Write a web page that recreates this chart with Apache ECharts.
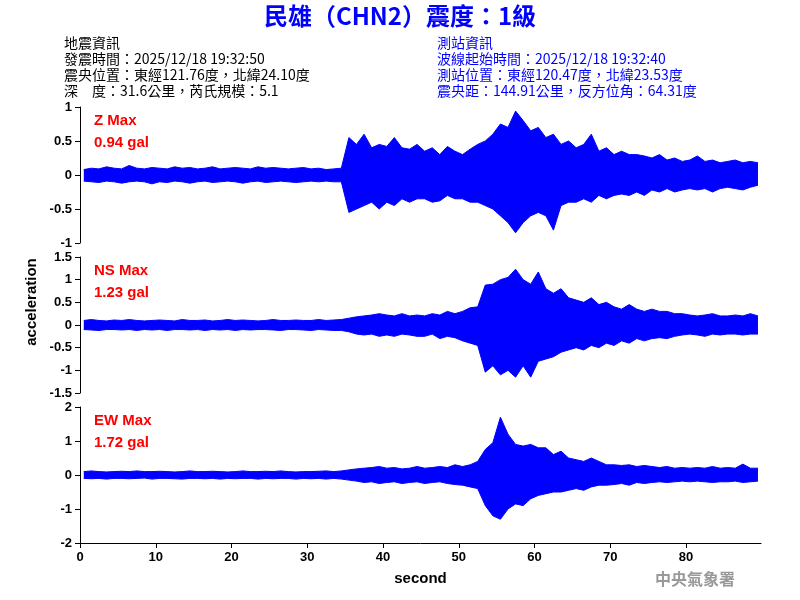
<!DOCTYPE html>
<html>
<head>
<meta charset="utf-8">
<script src="https://cdn.jsdelivr.net/npm/echarts@6/dist/echarts.min.js"></script>
<style>html,body{margin:0;padding:0;background:#fff}#main{width:800px;height:600px}</style>
</head>
<body>
<div id="main"></div>
<script>
// 每秒包絡值（上緣/下緣）
var seconds = [];
for (var s = 0; s < 90; s++) seconds.push(s + 0.5);

var zUpper = [0.08,0.1,0.09,0.12,0.1,0.09,0.14,0.1,0.09,0.11, 0.1,0.09,0.12,0.1,0.11,0.09,0.1,0.12,0.09,0.1,
  0.11,0.1,0.09,0.12,0.1,0.11,0.1,0.09,0.1,0.11, 0.09,0.1,0.08,0.09,0.1, 0.55,0.45,0.6,0.4,0.45,
  0.42,0.55,0.4,0.38,0.45, 0.35,0.4,0.3,0.42,0.35, 0.3,0.38,0.45,0.5,0.6, 0.75,0.7,0.94,0.8,0.65,
  0.7,0.55,0.6,0.45,0.5, 0.4,0.45,0.6,0.35,0.4, 0.3,0.35,0.3,0.3,0.28, 0.25,0.3,0.22,0.25,0.2,
  0.22,0.28,0.2,0.22,0.18, 0.2,0.22,0.18,0.2,0.18];
var zLower = [-0.09,-0.1,-0.11,-0.09,-0.1,-0.12,-0.1,-0.09,-0.1,-0.13, -0.1,-0.11,-0.09,-0.1,-0.12,-0.1,-0.09,-0.11,-0.1,-0.09,
  -0.1,-0.12,-0.1,-0.09,-0.11,-0.1,-0.09,-0.1,-0.11,-0.1, -0.09,-0.1,-0.09,-0.1,-0.1, -0.55,-0.5,-0.45,-0.4,-0.5,
  -0.4,-0.45,-0.35,-0.4,-0.35, -0.35,-0.4,-0.38,-0.3,-0.35, -0.35,-0.4,-0.4,-0.45,-0.5, -0.6,-0.7,-0.85,-0.7,-0.6,
  -0.55,-0.6,-0.81,-0.45,-0.4, -0.4,-0.35,-0.4,-0.3,-0.35, -0.3,-0.28,-0.3,-0.25,-0.3, -0.22,-0.25,-0.2,-0.25,-0.22,
  -0.2,-0.22,-0.2,-0.25,-0.2, -0.18,-0.2,-0.22,-0.18,-0.15];

var nsUpper = [0.1,0.12,0.1,0.09,0.11,0.1,0.12,0.1,0.09,0.1, 0.11,0.1,0.09,0.12,0.1,0.1,0.11,0.09,0.1,0.12,
  0.1,0.11,0.1,0.09,0.1,0.12,0.1,0.1,0.11,0.1, 0.1,0.12,0.1,0.11,0.12, 0.15,0.18,0.2,0.22,0.25,
  0.22,0.2,0.25,0.2,0.22, 0.2,0.25,0.22,0.3,0.25, 0.3,0.38,0.4,0.88,0.9, 1.0,1.05,1.23,1.0,0.9,
  1.17,0.8,0.7,0.8,0.6, 0.55,0.5,0.6,0.45,0.5, 0.4,0.35,0.45,0.35,0.3, 0.35,0.3,0.3,0.25,0.25,
  0.22,0.2,0.22,0.25,0.2, 0.2,0.22,0.2,0.25,0.2];
var nsLower = [-0.1,-0.11,-0.12,-0.1,-0.1,-0.11,-0.1,-0.12,-0.1,-0.11, -0.1,-0.12,-0.1,-0.1,-0.11,-0.1,-0.12,-0.1,-0.11,-0.1,
  -0.12,-0.1,-0.11,-0.1,-0.1,-0.11,-0.12,-0.1,-0.1,-0.11, -0.12,-0.1,-0.11,-0.12,-0.12, -0.15,-0.2,-0.22,-0.2,-0.25,
  -0.22,-0.25,-0.2,-0.22,-0.25, -0.25,-0.2,-0.3,-0.25,-0.28, -0.35,-0.4,-0.45,-1.04,-0.9, -1.1,-1.0,-1.15,-0.9,-1.15,
  -0.8,-0.75,-0.7,-0.6,-0.55, -0.5,-0.55,-0.45,-0.5,-0.4, -0.45,-0.35,-0.4,-0.3,-0.35, -0.3,-0.28,-0.3,-0.25,-0.22,
  -0.2,-0.22,-0.25,-0.2,-0.22, -0.2,-0.2,-0.22,-0.2,-0.2];

var ewUpper = [0.1,0.12,0.1,0.09,0.1,0.11,0.1,0.12,0.1,0.1, 0.11,0.1,0.09,0.1,0.12,0.1,0.1,0.11,0.1,0.09,
  0.1,0.12,0.1,0.1,0.11,0.1,0.12,0.1,0.09,0.1, 0.1,0.11,0.12,0.1,0.12, 0.15,0.18,0.2,0.22,0.25,
  0.2,0.22,0.18,0.2,0.25, 0.2,0.22,0.25,0.22,0.3, 0.25,0.3,0.4,0.75,0.95, 1.7,1.2,0.9,0.85,0.9,
  0.8,0.8,0.6,0.7,0.5, 0.45,0.4,0.5,0.4,0.3, 0.3,0.28,0.3,0.25,0.28, 0.25,0.22,0.25,0.2,0.22,
  0.2,0.22,0.2,0.25,0.2, 0.22,0.2,0.32,0.2,0.2];
var ewLower = [-0.1,-0.11,-0.1,-0.12,-0.1,-0.1,-0.11,-0.1,-0.09,-0.12, -0.1,-0.1,-0.11,-0.12,-0.1,-0.1,-0.11,-0.1,-0.12,-0.1,
  -0.11,-0.1,-0.1,-0.12,-0.1,-0.11,-0.1,-0.1,-0.12,-0.1, -0.11,-0.1,-0.12,-0.1,-0.12, -0.15,-0.18,-0.22,-0.2,-0.25,
  -0.22,-0.2,-0.25,-0.22,-0.2, -0.25,-0.22,-0.2,-0.25,-0.28, -0.3,-0.35,-0.4,-0.9,-1.2, -1.3,-1.0,-0.85,-0.9,-0.7,
  -0.6,-0.55,-0.5,-0.5,-0.45, -0.4,-0.45,-0.35,-0.3,-0.3, -0.28,-0.25,-0.3,-0.22,-0.25, -0.22,-0.2,-0.22,-0.2,-0.18,
  -0.2,-0.18,-0.2,-0.22,-0.2, -0.2,-0.18,-0.22,-0.2,-0.18];

var panels = [
  {name: 'Z', max: '0.94 gal', up: zUpper, low: zLower, min: -1, maxv: 1, step: 0.5},
  {name: 'NS', max: '1.23 gal', up: nsUpper, low: nsLower, min: -1.5, maxv: 1.5, step: 0.5},
  {name: 'EW', max: '1.72 gal', up: ewUpper, low: ewLower, min: -2, maxv: 2, step: 1}
];
var gridTops = [107, 257, 407];

var chart = echarts.init(document.getElementById('main'));
var font = 'Arial, "Liberation Sans", "Noto Sans CJK TC", sans-serif';
var cjk = '"Noto Sans CJK TC", sans-serif';
var grid = [], xAxis = [], yAxis = [], series = [], graphic = [];

function pairs(arr) {
  return arr.map(function (v, i) { return [seconds[i], v]; });
}

panels.forEach(function (p, i) {
  grid.push({left: 80, right: 39, top: gridTops[i], height: 136});
  xAxis.push({
    type: 'value', gridIndex: i, min: 0, max: 89.9, interval: 10,
    show: i === 2,
    axisLine: {onZero: false, lineStyle: {color: '#000', width: 1}},
    axisTick: {lineStyle: {color: '#000'}, length: 5},
    axisLabel: {color: '#000', fontSize: 13, fontWeight: 'bold', fontFamily: font, showMaxLabel: false},
    splitLine: {show: false},
    name: i === 2 ? 'second' : '', nameLocation: 'middle', nameGap: 28,
    nameTextStyle: {color: '#000', fontSize: 15, fontWeight: 'bold', fontFamily: font}
  });
  yAxis.push({
    type: 'value', gridIndex: i, min: p.min, max: p.maxv, interval: p.step,
    axisLine: {show: true, lineStyle: {color: '#000', width: 1}},
    axisTick: {show: true, lineStyle: {color: '#000'}, length: 5},
    axisLabel: {color: '#000', fontSize: 13, fontWeight: 'bold', fontFamily: font},
    splitLine: {show: false}
  });
  [p.up, p.low].forEach(function (arr) {
    series.push({
      type: 'line', xAxisIndex: i, yAxisIndex: i, data: pairs(arr),
      symbol: 'none', silent: true,
      lineStyle: {color: '#0000ff', width: 1},
      areaStyle: {color: '#0000ff', opacity: 1, origin: 0}
    });
  });
  graphic.push({
    type: 'text', left: 94, top: gridTops[i] + 3,
    style: {text: p.name + ' Max\n' + p.max, fill: '#ff0000', fontSize: 15, fontWeight: 'bold',
      fontFamily: font, lineHeight: 22}
  });
});

var info = ['地震資訊', '發震時間：2025/12/18 19:32:50', '震央位置：東經121.76度，北緯24.10度', '深　度：31.6公里，芮氏規模：5.1'];
var station = ['測站資訊', '波線起始時間：2025/12/18 19:32:40', '測站位置：東經120.47度，北緯23.53度', '震央距：144.91公里，反方位角：64.31度'];

graphic.push({
  type: 'text', left: 'center', top: 4,
  style: {text: '民雄（CHN2）震度：1級', fill: '#0000ff', fontSize: 24, fontWeight: 'bold', fontFamily: cjk}
});
graphic.push({
  type: 'text', left: 64, top: 35,
  style: {text: info.join('\n'), fill: '#000', fontSize: 14, fontFamily: cjk, lineHeight: 16}
});
graphic.push({
  type: 'text', left: 437, top: 35,
  style: {text: station.join('\n'), fill: '#0000ff', fontSize: 14, fontFamily: cjk, lineHeight: 16}
});
graphic.push({
  type: 'text', x: 32, y: 302, rotation: Math.PI / 2,
  style: {text: 'acceleration', fill: '#000', fontSize: 15, fontWeight: 'bold', fontFamily: font,
    align: 'center', verticalAlign: 'middle'}
});
graphic.push({
  type: 'text', left: 655, top: 571,
  style: {text: '中央氣象署', fill: '#999', fontSize: 16, fontWeight: 'bold', fontFamily: cjk}
});

chart.setOption({
  backgroundColor: '#fff',
  animation: false,
  grid: grid, xAxis: xAxis, yAxis: yAxis, series: series, graphic: graphic
});
</script>
</body>
</html>
